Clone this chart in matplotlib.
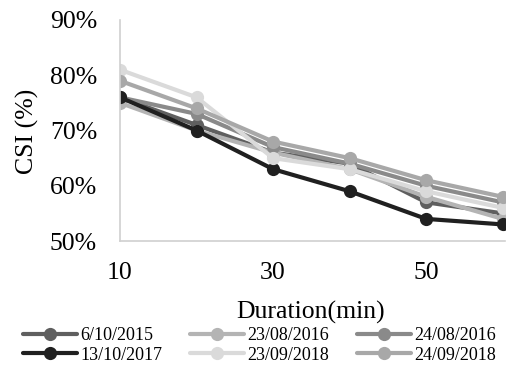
import matplotlib
matplotlib.use("Agg")
import matplotlib.pyplot as plt
from matplotlib.ticker import FuncFormatter

# Rainfall duration (minutes) and CSI values (%) for each event
durations = [10, 20, 30, 40, 50, 60]
events = ["6/10/2015", "23/08/2016", "24/08/2016",
          "13/10/2017", "23/09/2018", "24/09/2018"]
csi_2015_10_06 = [76, 71, 66, 64, 57, 55]
csi_2016_08_23 = [75, 70, 66, 63, 58, 54]
csi_2016_08_24 = [76, 73, 67, 64, 60, 57]
csi_2017_10_13 = [76, 70, 63, 59, 54, 53]
csi_2018_09_23 = [81, 76, 65, 63, 59, 56]
csi_2018_09_24 = [79, 74, 68, 65, 61, 58]
series = [csi_2015_10_06, csi_2016_08_23, csi_2016_08_24,
          csi_2017_10_13, csi_2018_09_23, csi_2018_09_24]
colors = ["#5f5f5f", "#b4b4b4", "#8a8a8a", "#202020", "#dadada", "#a8a8a8"]

plt.rcParams["font.family"] = ["Liberation Serif", "DejaVu Serif"]

W, H = 511, 370
fig = plt.figure(figsize=(W / 100, H / 100), dpi=100)
ax = fig.add_axes([120 / W, 1 - 241 / H, 385 / W, 221 / H])

handles = []
for name, vals, c in zip(events, series, colors):
    h, = ax.plot(durations, vals, color=c, lw=3.0, marker="o", ms=9.5,
                 markeredgewidth=0, label=name, solid_capstyle="round")
    handles.append(h)

ax.set_xlim(10, 60.3)
ax.set_ylim(50, 90)
ax.set_xticks([10, 30, 50])
ax.set_yticks([50, 60, 70, 80, 90])
ax.yaxis.set_major_formatter(FuncFormatter(lambda v, p: f"{v:.0f}%"))
ax.tick_params(length=0, labelsize=18.5)
ax.tick_params(axis="y", pad=16.5)
ax.tick_params(axis="x", pad=15)
for side in ("top", "right"):
    ax.spines[side].set_visible(False)
for side in ("left", "bottom"):
    ax.spines[side].set_color("#d0d0d0")
    ax.spines[side].set_linewidth(1.2)

fig.text(311 / W, 1 - 312 / H, "Duration(min)", fontsize=18.5,
         ha="center", va="center")
fig.text(27 / W, 1 - 131 / H, "CSI (%)", fontsize=18.5, rotation=90,
         ha="center", va="center")

# legend filled row by row (matplotlib fills columns first)
order = [0, 3, 1, 4, 2, 5]
fig.legend([handles[i] for i in order], [events[i] for i in order],
           loc="upper left", bbox_to_anchor=(23 / W, 1 - 327 / H), ncol=3,
           frameon=False, fontsize=13, handlelength=3.0,
           handletextpad=0.17, columnspacing=1.55, labelspacing=0.15,
           borderaxespad=0, borderpad=0)

fig.savefig("out.png", dpi=100)
